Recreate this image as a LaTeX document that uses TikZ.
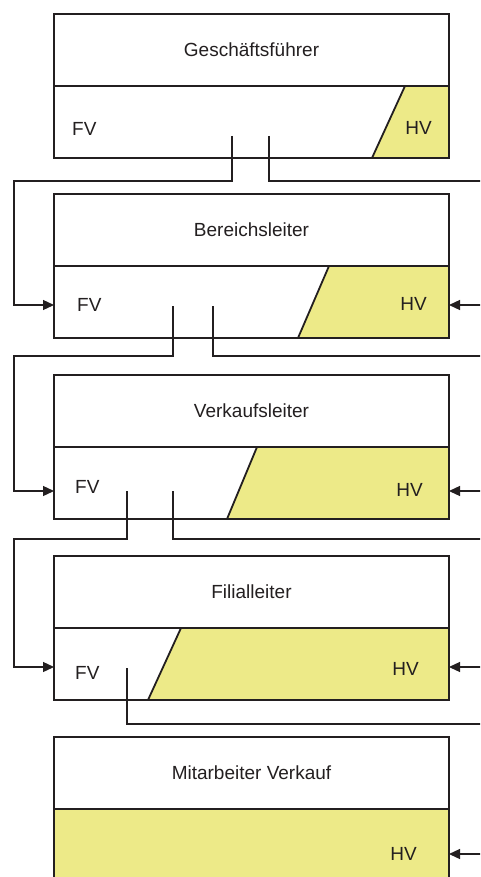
\documentclass[tikz,border=0pt]{standalone}
\usepackage{fontspec}
\setmainfont{Liberation Sans}
\usetikzlibrary{arrows.meta, positioning, backgrounds}
\definecolor{hvyellow}{RGB}{237,234,136}
\definecolor{linedark}{RGB}{35,31,32}
\tikzset{
  role/.style={
    draw=linedark,
    line width=1.8pt,
    minimum width=395pt,
    minimum height=72pt,
    inner sep=0pt,
    outer sep=0pt,
    text=linedark,
    font=\fontsize{19}{23}\selectfont
  },
  span/.style={role},
  tag/.style={inner sep=0pt, text=linedark, font=\fontsize{19}{23}\selectfont},
  slant/.style={draw=linedark, line width=1.8pt},
  link/.style={draw=linedark, line width=1.3pt},
  arrow/.style={link, -{Triangle[length=11pt, width=10pt]}}
}

\begin{document}
\begin{tikzpicture}[x=1pt, y=-1pt]
  \useasboundingbox (0,0) rectangle (480,877);
  \clip (0,0) rectangle (480,877);

  \node[role] (head1) at (251.5,50) {Geschäftsführer};
  \node[span, below=0pt of head1] (low1) {};
  \node[role, below=36pt of low1] (head2) {Bereichsleiter};
  \node[span, below=0pt of head2] (low2) {};
  \node[role, below=37pt of low2] (head3) {Verkaufsleiter};
  \node[span, below=0pt of head3] (low3) {};
  \node[role, below=37pt of low3] (head4) {Filialleiter};
  \node[span, below=0pt of head4] (low4) {};
  \node[role, below=37pt of low4] (head5) {Mitarbeiter Verkauf};
  \node[span, fill=hvyellow, below=0pt of head5] (low5) {};

  % HV areas
  \begin{scope}[on background layer]
    \fill[white] (0,0) rectangle (480,877);
    \fill[hvyellow] (low1.north east) -- ([xshift=-44pt]low1.north east) -- ([xshift=-77pt]low1.south east) -- (low1.south east) -- cycle;
    \fill[hvyellow] (low2.north east) -- ([xshift=-120pt]low2.north east) -- ([xshift=-151pt]low2.south east) -- (low2.south east) -- cycle;
    \fill[hvyellow] (low3.north east) -- ([xshift=-192pt]low3.north east) -- ([xshift=-222pt]low3.south east) -- (low3.south east) -- cycle;
    \fill[hvyellow] (low4.north east) -- ([xshift=-268pt]low4.north east) -- ([xshift=-301pt]low4.south east) -- (low4.south east) -- cycle;
  \end{scope}
  \draw[slant] ([xshift=-44pt]low1.north east) -- ([xshift=-77pt]low1.south east);
  \draw[slant] ([xshift=-120pt]low2.north east) -- ([xshift=-151pt]low2.south east);
  \draw[slant] ([xshift=-192pt]low3.north east) -- ([xshift=-222pt]low3.south east);
  \draw[slant] ([xshift=-268pt]low4.north east) -- ([xshift=-301pt]low4.south east);

  \node[tag, right=18pt of low1.west, yshift=-6.5pt] (fv1) {FV};
  \node[tag, left=17pt of low1.east, yshift=-6pt] (hv1) {HV};
  \node[tag, right=23pt of low2.west, yshift=-3pt] (fv2) {FV};
  \node[tag, left=22pt of low2.east, yshift=-2pt] (hv2) {HV};
  \node[tag, right=21pt of low3.west, yshift=-4pt] (fv3) {FV};
  \node[tag, left=26pt of low3.east, yshift=-7pt] (hv3) {HV};
  \node[tag, right=21pt of low4.west, yshift=-9pt] (fv4) {FV};
  \node[tag, left=30pt of low4.east, yshift=-5pt] (hv4) {HV};
  \node[tag, left=32pt of low5.east, yshift=-9pt] (hv5) {HV};

  % FV down the left, HV round the right
  \draw[arrow] ([xshift=178pt, yshift=22pt]low1.south west) |- (14,181) |- ([yshift=-3pt]low2.west);
  \draw[arrow] ([xshift=215pt, yshift=22pt]low1.south west) |- (492,181) |- ([yshift=-3pt]low2.east);
  \draw[arrow] ([xshift=119pt, yshift=32pt]low2.south west) |- (14,356) |- ([yshift=-8pt]low3.west);
  \draw[arrow] ([xshift=159pt, yshift=32pt]low2.south west) |- (492,356) |- ([yshift=-8pt]low3.east);
  \draw[arrow] ([xshift=73pt, yshift=28pt]low3.south west) |- (14,539) |- ([yshift=-3pt]low4.west);
  \draw[arrow] ([xshift=119pt, yshift=28pt]low3.south west) |- (492,539) |- ([yshift=-3pt]low4.east);
  \draw[arrow] ([xshift=73pt, yshift=32pt]low4.south west) |- (492,724) |- ([yshift=-9pt]low5.east);
\end{tikzpicture}
\end{document}
